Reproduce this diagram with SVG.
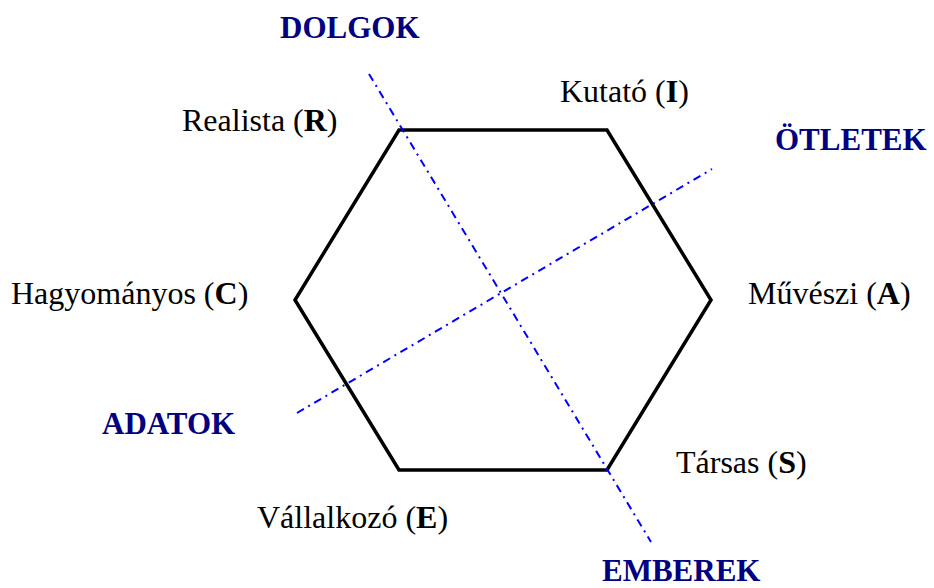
<svg xmlns="http://www.w3.org/2000/svg" width="934" height="588" viewBox="0 0 934 588">
  <style>
    .type { font-family: "Liberation Serif", "Times New Roman", serif; font-size: 32px; fill: #000; }
    .axis-label { font-family: "Liberation Serif", "Times New Roman", serif; font-size: 31px; font-weight: bold; fill: #000080; }
    .hex { fill: none; stroke: #000; stroke-width: 3.5; stroke-linejoin: miter; }
    .axis { stroke: #0000ff; stroke-width: 2; stroke-dasharray: 8 5 2 5; fill: none; }
  </style>
  <rect width="934" height="588" fill="#fff"/>

  <!-- hexagon of the six types -->
  <g id="hexagon">
    <polygon class="hex" points="399,130 607,130 711,300 607,470 399,470 295,300"/>
  </g>

  <!-- the two dash-dot axes -->
  <g id="connectors">
    <line class="axis" x1="369" y1="74" x2="651" y2="542"/>
    <line class="axis" x1="297" y1="413" x2="712" y2="169"/>
  </g>

  <g id="node-R"><text class="type" x="182" y="131">Realista (<tspan font-weight="bold">R</tspan>)</text></g>
  <g id="node-I"><text class="type" x="560" y="102">Kutató (<tspan font-weight="bold">I</tspan>)</text></g>
  <g id="node-A"><text class="type" x="748" y="304">Művészi (<tspan font-weight="bold">A</tspan>)</text></g>
  <g id="node-S"><text class="type" x="676" y="473">Társas (<tspan font-weight="bold">S</tspan>)</text></g>
  <g id="node-E"><text class="type" x="257" y="528">Vállalkozó (<tspan font-weight="bold">E</tspan>)</text></g>
  <g id="node-C"><text class="type" x="11" y="304">Hagyományos (<tspan font-weight="bold">C</tspan>)</text></g>

  <g id="axis-dolgok"><text class="axis-label" x="280" y="38">DOLGOK</text></g>
  <g id="axis-otletek"><text class="axis-label" x="775" y="150">ÖTLETEK</text></g>
  <g id="axis-adatok"><text class="axis-label" x="102" y="434">ADATOK</text></g>
  <g id="axis-emberek"><text class="axis-label" x="602" y="581">EMBEREK</text></g>
</svg>
